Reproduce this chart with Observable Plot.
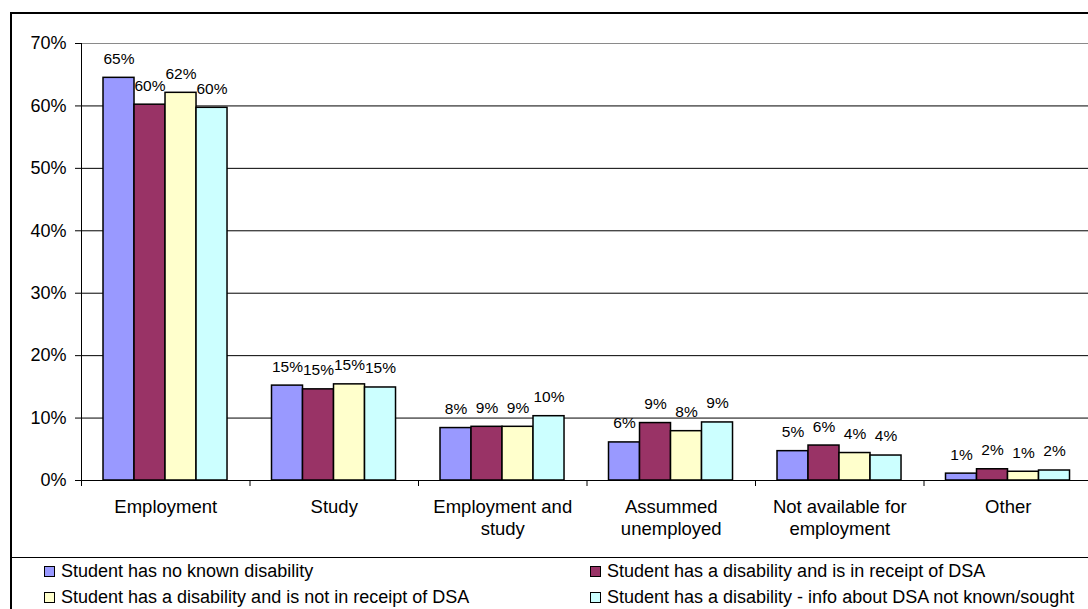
<!DOCTYPE html>
<html>
<head>
<meta charset="utf-8">
<script src="https://cdn.jsdelivr.net/npm/d3@7"></script>
<script src="https://cdn.jsdelivr.net/npm/@observablehq/plot@0.6"></script>
<style>
  html, body { margin: 0; padding: 0; background: #fff; overflow: hidden; width: 1088px; height: 609px; }
  body { position: relative; font-family: "Liberation Sans", Arial, sans-serif; color: #000; }
  #frame { position: absolute; left: 10px; top: 12px; width: 1200px; height: 700px;
           border-left: 2px solid #000; border-top: 2px solid #000; }
  #sep { position: absolute; left: 10px; top: 557px; width: 1200px; border-top: 1.5px solid #000; }
  #chart { position: absolute; left: 0; top: 0; }
  #chart svg { max-width: none !important; }
  .legend-item { position: absolute; display: flex; align-items: center; font-size: 18px; white-space: nowrap; }
  .swatch { width: 9px; height: 9px; border: 1px solid #000; margin-right: 6px; }
</style>
</head>
<body>
<div id="frame"></div>
<div id="sep"></div>
<div id="chart"></div>
<div id="legend"></div>
<script>
// Destination categories (x axis)
const categories = [
  "Employment",
  "Study",
  "Employment and\nstudy",
  "Assummed\nunemployed",
  "Not available for\nemployment",
  "Other"
];

// Series (disability / DSA status)
const seriesNames = [
  "Student has no known disability",
  "Student has a disability and is in receipt of DSA",
  "Student has a disability and is not in receipt of DSA",
  "Student has a disability - info about DSA not known/sought"
];
const seriesColors = ["#9999FF", "#993366", "#FFFFCC", "#CCFFFF"];

// Share of leavers in each destination, one array per series
const noKnownDisability = [0.645, 0.152, 0.084, 0.061, 0.047, 0.011];
const inReceiptOfDSA    = [0.602, 0.146, 0.086, 0.092, 0.056, 0.018];
const notInReceiptOfDSA = [0.621, 0.154, 0.086, 0.079, 0.044, 0.014];
const dsaNotKnown       = [0.597, 0.149, 0.103, 0.093, 0.040, 0.016];

const yTicks = [0, 0.1, 0.2, 0.3, 0.4, 0.5, 0.6, 0.7];

const seriesValues = [noKnownDisability, inReceiptOfDSA, notInReceiptOfDSA, dsaNotKnown];

// Layout of the clustered bars inside each category slot (fractions of a slot)
const groupOffset = 0.1306;
const barWidth = 0.184;

const rows = [];
categories.forEach((cat, i) => {
  seriesNames.forEach((s, j) => {
    rows.push({ cat, i, j, series: s, value: seriesValues[j][i] });
  });
});

const pct = d3.format(".0%");
const left = d => d.i + groupOffset + d.j * barWidth;
const right = d => d.i + groupOffset + (d.j + 1) * barWidth;
const mid = d => d.i + groupOffset + (d.j + 0.5) * barWidth;

const chart = Plot.plot({
  width: 1100,
  height: 558,
  marginLeft: 81,
  marginRight: 8,
  marginTop: 43,
  marginBottom: 78,
  style: { fontFamily: "'Liberation Sans', Arial, sans-serif", background: "transparent", color: "#000", overflow: "visible", maxWidth: "none" },
  x: { type: "linear", domain: [0, categories.length], axis: null, label: null },
  y: { domain: [0, 0.7], axis: null, label: null },
  color: { domain: seriesNames, range: seriesColors },
  marks: [
    Plot.ruleY(yTicks.slice(1, -1), { stroke: "#000", strokeWidth: 1 }),
    Plot.ruleY([0.7], { stroke: "#8a8a8a", strokeWidth: 1 }),
    Plot.rectY(rows, { x1: left, x2: right, y: "value", fill: "series", stroke: "#000", strokeWidth: 1.5 }),
    Plot.ruleY([0], { stroke: "#000", strokeWidth: 1 }),
    Plot.ruleX([0], { stroke: "#000", strokeWidth: 1 }),
    Plot.axisY({ ticks: yTicks, tickFormat: pct, tickSize: 6, tickPadding: 9, fontSize: 18, stroke: "#000" }),
    Plot.axisX({ ticks: d3.range(0, categories.length + 1), tickSize: 6, tickFormat: () => "", stroke: "#000" }),
    Plot.axisX({
      ticks: d3.range(categories.length).map(i => i + 0.5),
      tickSize: 0, tickPadding: 17, lineHeight: 1.2, fontSize: 18.5,
      tickFormat: v => categories[Math.floor(v)]
    }),
    Plot.text(rows, { x: mid, y: "value", dy: -19, text: d => pct(d.value), fontSize: 15.5, fill: "#000" })
  ]
});
document.getElementById("chart").appendChild(chart);

// Legend below the chart, two columns
const legend = document.getElementById("legend");
const legendPos = [[44, 571], [590, 571], [44, 597], [590, 597]];
seriesNames.forEach((s, j) => {
  const item = document.createElement("div");
  item.className = "legend-item";
  item.style.left = legendPos[j][0] + "px";
  item.style.top = (legendPos[j][1] - 11) + "px";
  item.style.height = "22px";
  const sw = document.createElement("div");
  sw.className = "swatch";
  sw.style.background = seriesColors[j];
  const label = document.createElement("span");
  label.textContent = s;
  item.appendChild(sw);
  item.appendChild(label);
  legend.appendChild(item);
});
</script>
</body>
</html>
